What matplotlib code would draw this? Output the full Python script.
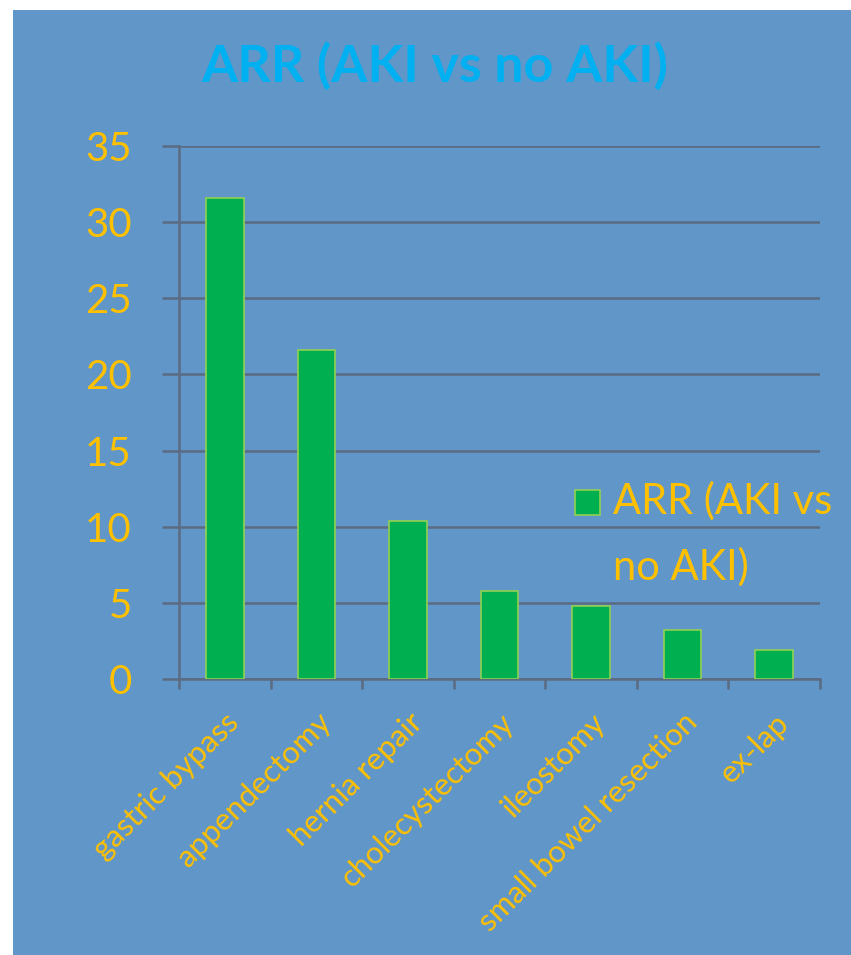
import matplotlib
matplotlib.use("Agg")
import matplotlib.pyplot as plt
from matplotlib.patches import Rectangle
import numpy as np

plt.rcParams["font.family"] = ["Lato", "DejaVu Sans"]

procedures = [
    "gastric bypass",
    "appendectomy",
    "hernia repair",
    "cholecystectomy",
    "ileostomy",
    "small bowel resection",
    "ex-lap",
]
arr_values = [31.6, 21.6, 10.4, 5.8, 4.8, 3.2, 1.9]
series_name = "ARR (AKI vs no AKI)"
y_ticks = [0, 5, 10, 15, 20, 25, 30, 35]

BG = "#6096C8"
GOLD = "#FFC000"
GRID = "#5B6B82"
BAR = "#00B050"
BAR_EDGE = "#92D050"

W, H = 851, 955
fig = plt.figure(figsize=(W / 100, H / 100), dpi=100, facecolor="white")

# blue chart area, with thin white margin at left and top
fig.patches.append(Rectangle((13 / W, 0), 1 - 13 / W, 1 - 10 / H,
                             transform=fig.transFigure, facecolor=BG,
                             edgecolor="none", zorder=-10))

ax = fig.add_axes([179 / W, 1 - 679 / H, (820 - 179) / W, (679 - 146) / H])
ax.set_facecolor("none")

x = np.arange(len(procedures))
ax.bar(x, arr_values, width=0.41, color=BAR, edgecolor=BAR_EDGE,
       linewidth=1.2, zorder=3)

ax.set_xlim(-0.5, len(procedures) - 0.5)
ax.set_ylim(0, 35)
ax.set_yticks(y_ticks)
ax.set_yticklabels([str(v) for v in y_ticks])
ax.yaxis.grid(True, color=GRID, linewidth=1.8, zorder=1)
ax.set_axisbelow(True)

for side in ("top", "right"):
    ax.spines[side].set_visible(False)
for side in ("left", "bottom"):
    ax.spines[side].set_color(GRID)
    ax.spines[side].set_linewidth(1.8)

ax.tick_params(axis="y", colors=GRID, labelcolor=GOLD, labelsize=29,
               length=12, width=1.8, pad=22)

# category labels on major ticks, boundary tick marks on minor ticks
ax.set_xticks(x)
ax.set_xticklabels(procedures, rotation=45, ha="right", va="top",
                   rotation_mode="anchor", color=GOLD, fontsize=22.5)
ax.set_xticks(np.arange(-0.5, len(procedures), 1.0), minor=True)
ax.tick_params(axis="x", which="major", length=0, pad=21)
ax.tick_params(axis="x", which="minor", length=7, width=1.8, color=GRID)

fig.text(435 / W, 1 - 66 / H, series_name, ha="center", va="center",
         fontsize=37.5, fontweight="bold", color="#00B0F0")

# legend entry
fig.patches.append(Rectangle((575 / W, 1 - 515 / H), 25 / W, 25 / H,
                             transform=fig.transFigure, facecolor=BAR,
                             edgecolor=BAR_EDGE, linewidth=1.2, zorder=5))
fig.text(613 / W, 1 - 534 / H, "ARR (AKI vs\nno AKI)", ha="left",
         va="center", fontsize=30, color=GOLD, linespacing=1.8)

fig.savefig("out.png", dpi=100, facecolor="white")
